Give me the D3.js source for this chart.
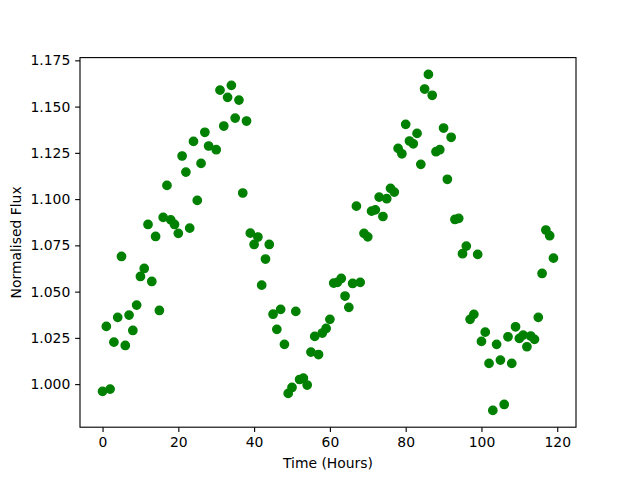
<!DOCTYPE html>
<html>
<head>
<meta charset="utf-8">
<script src="https://cdn.jsdelivr.net/npm/d3@7"></script>
<style>
  html, body { margin: 0; padding: 0; background: #fff; }
  svg { display: block; }
  text { font-family: "DejaVu Sans", sans-serif; }
</style>
</head>
<body>
<svg id="chart" width="640" height="480"></svg>
<script>
const hours = [0,1,2,3,4,5,6,7,8,9,10,11,12,13,14,15,16,17,18,19,20,21,22,23,24,25,26,27,28,30,
  31,32,33,34,35,36,37,38,39,40,41,42,43,44,45,46,47,48,49,50,51,52,53,54,55,56,57,58,59,60,
  61,62,63,64,65,66,67,68,69,70,71,72,73,74,75,76,77,78,79,80,81,82,83,84,85,86,87,88,89,90,
  91,92,93,94,95,96,97,98,99,100,101,102,103,104,105,106,107,108,109,110,111,112,113,114,115,116,117,118,119];
const flux = [0.9961,1.0312,0.9973,1.0227,1.0361,1.0690,1.0209,1.0373,1.0290,1.0427,
  1.0582,1.0625,1.0863,1.0555,1.0798,1.0398,1.0901,1.1074,1.0888,1.0863,
  1.0815,1.1233,1.1146,1.0843,1.1312,1.0993,1.1193,1.1361,1.1287,1.1267,
  1.1589,1.1395,1.1550,1.1615,1.1438,1.1535,1.1033,1.1422,1.0816,1.0755,
  1.0795,1.0535,1.0676,1.0755,1.0378,1.0296,1.0404,1.0215,0.9950,0.9982,
  1.0393,1.0025,1.0032,0.9995,1.0173,1.0258,1.0160,1.0276,1.0301,1.0350,
  1.0546,1.0550,1.0571,1.0476,1.0415,1.0544,1.0962,1.0550,1.0815,1.0796,
  1.0935,1.0942,1.1011,1.0906,1.1002,1.1058,1.1038,1.1274,1.1245,1.1404,
  1.1314,1.1299,1.1355,1.1188,1.1595,1.1674,1.1561,1.1256,1.1267,1.1384,
  1.1107,1.1334,1.0890,1.0896,1.0705,1.0746,1.0350,1.0377,1.0701,1.0231,
  1.0281,1.0112,0.9858,1.0215,1.0130,0.9890,1.0256,1.0112,1.0310,1.0247,
  1.0265,1.0202,1.0260,1.0242,1.0361,1.0598,1.0833,1.0802,1.0681];
const xTicks = [0,20,40,60,80,100,120];
const yTicks = [1.000,1.025,1.050,1.075,1.100,1.125,1.150,1.175];
const xLabel = "Time (Hours)";
const yLabel = "Normalised Flux";

const W = 640, H = 480;
const mLeft = 80, mRight = 576, mTop = 57.6, mBottom = 427.2;
const svg = d3.select("#chart");

function padded(ext) { const r = ext[1] - ext[0]; return [ext[0] - 0.05 * r, ext[1] + 0.05 * r]; }
const x = d3.scaleLinear().domain(padded(d3.extent(hours))).range([mLeft, mRight]);
const y = d3.scaleLinear().domain(padded(d3.extent(flux))).range([mBottom, mTop]);

const data = hours.map((h, i) => ({h, f: flux[i]}));

// points
svg.append("g").selectAll("circle").data(data).join("circle")
  .attr("cx", d => x(d.h)).attr("cy", d => y(d.f))
  .attr("r", 4.17)
  .attr("fill", "#008000").attr("stroke", "#008000").attr("stroke-width", 1.39);

// axes
const xAxis = d3.axisBottom(x).tickValues(xTicks).tickFormat(d3.format("d")).tickSizeOuter(0).tickSize(4.86).tickPadding(4.86);
const yAxis = d3.axisLeft(y).tickValues(yTicks).tickFormat(d3.format(".3f")).tickSizeOuter(0).tickSize(4.86).tickPadding(4.86);

const gx = svg.append("g").attr("transform", `translate(0,${mBottom})`).call(xAxis);
const gy = svg.append("g").attr("transform", `translate(${mLeft},0)`).call(yAxis);
[gx, gy].forEach(g => {
  g.select(".domain").remove();
  g.selectAll(".tick line").attr("stroke", "#000").attr("stroke-width", 1.11);
  g.selectAll(".tick text").attr("fill", "#000").style("font-size", "13.9px").style("font-family", "'DejaVu Sans', sans-serif");
});

// spines
svg.append("rect").attr("x", mLeft).attr("y", mTop).attr("width", mRight - mLeft).attr("height", mBottom - mTop)
  .attr("fill", "none").attr("stroke", "#000").attr("stroke-width", 1.11);

// labels
svg.append("text").attr("x", (mLeft + mRight) / 2).attr("y", 468)
  .attr("text-anchor", "middle").style("font-size", "13.9px").attr("fill", "#000").text(xLabel);
svg.append("text").attr("transform", `translate(21,${(mTop + mBottom) / 2}) rotate(-90)`)
  .attr("text-anchor", "middle").style("font-size", "13.9px").attr("fill", "#000").text(yLabel);
</script>
</body>
</html>
